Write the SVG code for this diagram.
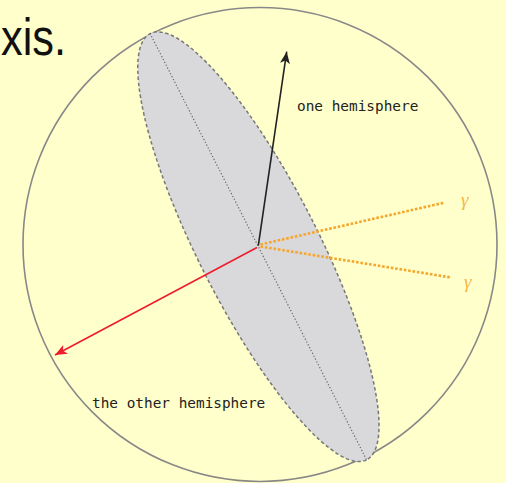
<svg xmlns="http://www.w3.org/2000/svg" width="506" height="483" viewBox="0 0 506 483">
  <style>
    .mono { font-family: "DejaVu Sans Mono", "Liberation Mono", monospace; font-size: 14.4px; fill: #222; }
    .gamma { font-family: "Liberation Serif", "DejaVu Serif", serif; font-style: italic; font-size: 19px; fill: #f7b548; }
    .ray { stroke: #f6a62a; stroke-width: 2.6; stroke-dasharray: 2.6 1.8; fill: none; }
  </style>
  <defs>
    <marker id="ahBlack" markerUnits="userSpaceOnUse" markerWidth="14" markerHeight="12" viewBox="-13 -6 14 12" refX="0" refY="0" orient="auto">
      <path d="M0,0 L-12,-5 L-9,0 L-12,5 Z" fill="#222"/>
    </marker>
    <marker id="ahRed" markerUnits="userSpaceOnUse" markerWidth="14" markerHeight="12" viewBox="-13 -6 14 12" refX="0" refY="0" orient="auto">
      <path d="M0,0 L-12,-5 L-9,0 L-12,5 Z" fill="#ee1c2e"/>
    </marker>
  </defs>
  <rect x="0" y="0" width="506" height="483" fill="#ffffcc"/>
  <text x="1" y="55" textLength="65" lengthAdjust="spacingAndGlyphs" font-family="Liberation Sans, Arial, sans-serif" font-size="52" fill="#111">xis.</text>

  <g id="sphere">
    <circle cx="260" cy="244.5" r="237" fill="none" stroke="#888" stroke-width="1.6"/>
  </g>
  <g id="plane">
    <ellipse cx="258.4" cy="246.7" rx="239" ry="60" transform="rotate(63.1 258.4 246.7)" fill="#d9d9dc" stroke="#777" stroke-width="1.5" stroke-dasharray="3.5 2.5"/>
    <line x1="150" y1="33.3" x2="366.7" y2="460" stroke="#666" stroke-width="1.2" stroke-dasharray="1.2 2"/>
  </g>

  <g id="connectors">
    <line x1="258.3" y1="245.7" x2="286.7" y2="51.7" stroke="#222" stroke-width="1.6" marker-end="url(#ahBlack)"/>
    <line x1="257" y1="247.5" x2="55" y2="355" stroke="#ee1c2e" stroke-width="1.6" marker-end="url(#ahRed)"/>
    <line class="ray" x1="260.5" y1="244.5" x2="445" y2="202.5"/>
    <line class="ray" x1="260.5" y1="246.5" x2="451" y2="277.5"/>
  </g>

  <g id="label-one">
    <text class="mono" x="297" y="111">one hemisphere</text>
  </g>
  <g id="label-other">
    <text class="mono" x="92" y="408">the other hemisphere</text>
  </g>
  <g id="gamma1">
    <text class="gamma" x="461" y="206">γ</text>
  </g>
  <g id="gamma2">
    <text class="gamma" x="464" y="288">γ</text>
  </g>
</svg>
